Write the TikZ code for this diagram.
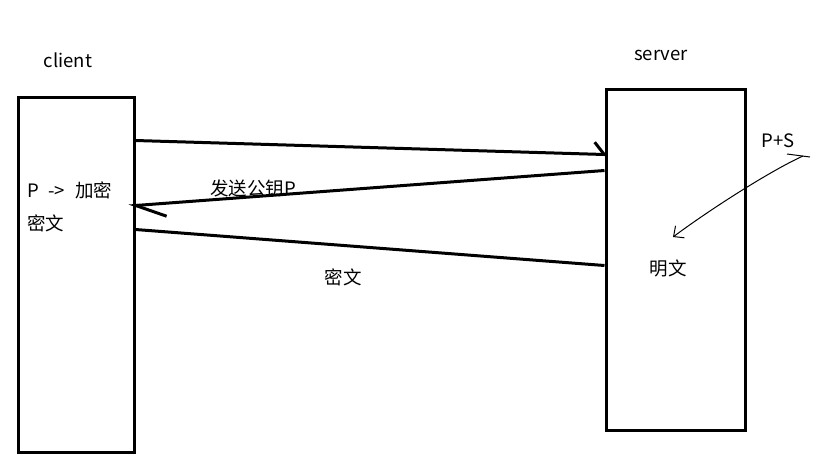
\documentclass[tikz,border=0pt]{standalone}
\usepackage{fontspec}
\setmainfont{Noto Sans CJK SC}
\usepackage{tikz}
\usetikzlibrary{arrows.meta,positioning,calc}

\begin{document}
\begin{tikzpicture}[x=1pt,y=-1pt,
  box/.style={draw,line width=3pt,inner sep=0pt},
  msg/.style={line width=3pt},
  squig/.style={line width=1pt},
  lbl/.style={inner sep=0pt,font=\fontsize{18.5}{22}\selectfont}]
\useasboundingbox (0,0) rectangle (815,456);
\node[box,minimum width=116pt,minimum height=355pt] (client) at (76,274.5) {};
\node[box,minimum width=139pt,minimum height=341pt] (server) at (675.5,259.5) {};
\node[lbl] (clientname) at (68,60) {client};
\node[lbl] (servername) at (661,55) {server};
\node[lbl,anchor=west] (encrypt) at (27,190) {P\hspace{0.5em}->\hspace{0.55em}加密};
\node[lbl,anchor=west] (cipherc) at (27,223) {密文};
\node[lbl] (sendkey) at (253,188) {发送公钥P};
\node[lbl] (ciphermsg) at (343,277) {密文};
\node[lbl] (plain) at (668,268) {明文};
\node[lbl] (keys) at (778,141) {P+S};
% message lines
\coordinate (c1) at ($(client.north east)+(0,45)$);
\coordinate (s1) at ($(server.north west)+(0,67)$);
\coordinate (s2) at ($(server.north west)+(0,83)$);
\coordinate (c2) at ($(client.north east)+(0,110)$);
\coordinate (c3) at ($(client.north east)+(0,134)$);
\coordinate (s3) at ($(server.north west)+(0,178)$);
\draw[msg,shorten >=-3pt,-{Straight Barb[left,length=10pt,width=24pt]}] (c1) -- (s1);
\draw[msg,shorten >=-7pt,-{Straight Barb[left,length=30pt,width=26pt]}] (s2) -- (c2);
\draw[msg] (c3) -- (s3);
% key pair arrow
\coordinate (ticka) at (787,154);
\coordinate (tickb) at (810,157);
\coordinate (kstart) at (803,156);
\coordinate (ktip) at (673,237);
\draw[squig] (ticka) -- (tickb);
\draw[squig,-{Straight Barb[length=8pt,width=15pt]}] (kstart) .. controls (772,170) and (712,208) .. (ktip);
\end{tikzpicture}
\end{document}
